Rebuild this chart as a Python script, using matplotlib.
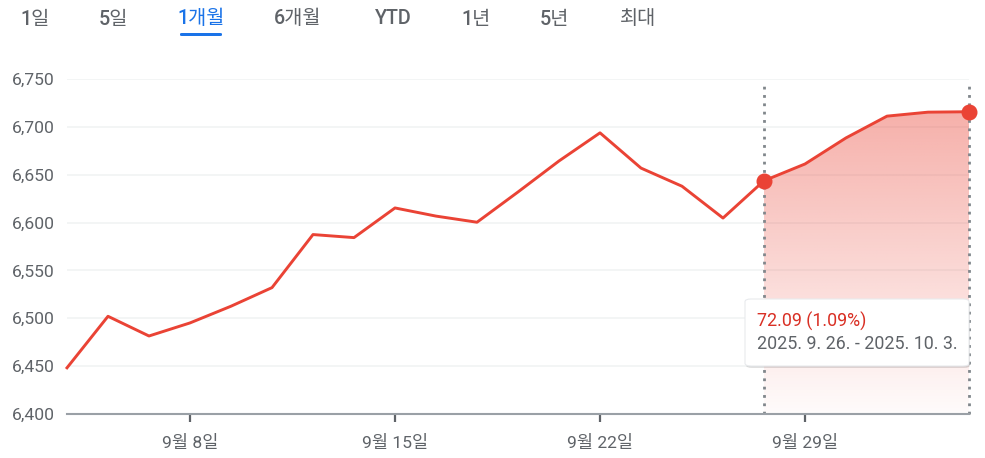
import numpy as np
import matplotlib
matplotlib.use("Agg")
import matplotlib.pyplot as plt
from matplotlib.patches import FancyBboxPatch
from matplotlib.colors import to_rgb

# S&P-style closes, trading days 2025-09-03 .. 2025-10-03
closes = [6448.26, 6502.08, 6481.50, 6495.15, 6512.61, 6532.04, 6587.47, 6584.29,
          6615.28, 6606.76, 6600.35, 6631.96, 6664.36, 6693.75, 6656.92, 6637.97,
          6604.72, 6643.70, 6661.21, 6688.46, 6711.20, 6715.35, 6715.79]
tick_pos = [3, 8, 13, 18]
tick_labels = ["9월 8일", "9월 15일", "9월 22일", "9월 29일"]
yticks = [6400, 6450, 6500, 6550, 6600, 6650, 6700, 6750]
tabs = ["1일", "5일", "1개월", "6개월", "YTD", "1년", "5년", "최대"]
tab_x = [35, 113, 201, 298, 393, 476, 554, 638]
selected_tab = "1개월"
sel_start, sel_end = 17, 22
range_text = "2025. 9. 26. - 2025. 10. 3."

FONT = ["Roboto", "Noto Sans CJK KR", "DejaVu Sans"]
plt.rcParams["font.family"] = FONT

RED = "#ea4335"
W, H = 985, 458
fig = plt.figure(figsize=(W / 100, H / 100), dpi=100)
fig.patch.set_facecolor("white")

def fx(px):
    return px / W

def fy(py):
    return 1 - py / H

# tabs row
for name, xc in zip(tabs, tab_x):
    col = "#1a73e8" if name == selected_tab else "#5f6368"
    fig.text(fx(xc), fy(19), name, ha="center", va="center", fontsize=14.2,
             color=col, fontweight=500)
    if name == selected_tab:
        fig.patches.append(FancyBboxPatch((fx(xc - 21), fy(36)), fx(42), 3 / H,
                                          boxstyle="round,pad=0,rounding_size=0.002",
                                          transform=fig.transFigure, color="#1a73e8",
                                          linewidth=0))

left, right, top, bottom = 67, 969, 79, 414
ax = fig.add_axes([fx(left), fy(bottom), fx(right - left), (bottom - top) / H])
x = np.arange(len(closes))

for s in ["top", "right", "left"]:
    ax.spines[s].set_visible(False)
ax.spines["bottom"].set_color("#9aa0a6")
ax.spines["bottom"].set_linewidth(1.5)

ax.set_yticks(yticks)
ax.set_yticklabels([f"{v:,}" for v in yticks])
ax.tick_params(axis="y", length=0, pad=9, labelsize=12.6, labelcolor="#5f6368")
ax.set_xticks(tick_pos)
ax.set_xticklabels(tick_labels)
ax.tick_params(axis="x", length=6, width=1.6, color="#5f6368", pad=9,
               labelsize=12.6, labelcolor="#5f6368")
for v in yticks[1:]:
    ax.axhline(v, color="#f1f3f4", lw=1.2, zorder=0)

# gradient fill under selected range
xs = x[sel_start:sel_end + 1]
ys = np.array(closes[sel_start:sel_end + 1])
poly = ax.fill_between(xs, yticks[0], ys, facecolor="none", edgecolor="none")
r, g, b = to_rgb(RED)
grad = np.zeros((200, 2, 4))
grad[:, :, 0], grad[:, :, 1], grad[:, :, 2] = r, g, b
grad[:, :, 3] = np.linspace(0.42, 0.02, 200)[:, None]
im = ax.imshow(grad, extent=[xs[0], xs[-1], yticks[0], ys.max()], aspect="auto",
               origin="upper", zorder=1, interpolation="bilinear")
im.set_clip_path(poly.get_paths()[0], transform=ax.transData)
ax.set_xlim(0, len(closes) - 1)
ax.set_ylim(yticks[0], yticks[-1])

# selection markers
for xi in (sel_start, sel_end):
    ax.plot([xi, xi], [yticks[0], yticks[-1] - 5], color="#80868b", lw=2.0,
            linestyle=(0, (1.0, 2.0)), zorder=2, clip_on=False)

ax.plot(x, closes, color=RED, lw=2.1, zorder=3, clip_on=False)
ax.plot([sel_start, sel_end], [closes[sel_start], closes[sel_end]], "o",
        color=RED, ms=10.5, zorder=4, clip_on=False)

# tooltip
diff = closes[sel_end] - closes[sel_start]
pct = diff / closes[sel_start] * 100
bx, by, bw, bh = 745, 299, 224, 67
shadow = FancyBboxPatch((fx(bx + 1), fy(by + bh + 2)), fx(bw), bh / H,
                        boxstyle="round,pad=0,rounding_size=0.006",
                        transform=fig.transFigure, facecolor="#000000", alpha=0.12,
                        linewidth=0, zorder=9)
box = FancyBboxPatch((fx(bx), fy(by + bh)), fx(bw), bh / H,
                     boxstyle="round,pad=0,rounding_size=0.006",
                     transform=fig.transFigure, facecolor="white",
                     edgecolor="#e8eaed", linewidth=0.8, zorder=10)
fig.patches.extend([shadow, box])
fig.text(fx(757), fy(321), f"{diff:.2f} ({pct:.2f}%)", color="#d93025",
         fontsize=12.9, ha="left", va="center", zorder=11)
fig.text(fx(757), fy(344), range_text, color="#5f6368", fontsize=12.9,
         ha="left", va="center", zorder=11)

fig.savefig("out.png", dpi=100, facecolor="white")
